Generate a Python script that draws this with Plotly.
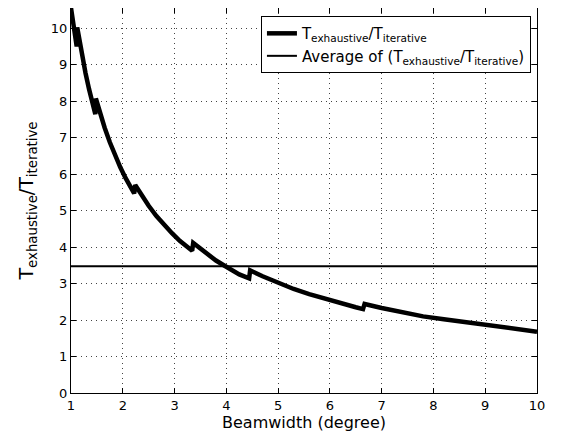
import plotly.graph_objects as go

# Beamwidth (degree) samples along the curve (jumps appear as pairs of close x)
beamwidth = [1.00, 1.03, 1.06, 1.09, 1.11, 1.12, 1.16, 1.22, 1.28, 1.35, 1.42, 1.47,
             1.48, 1.55, 1.65, 1.75, 1.85, 1.95, 2.05, 2.15, 2.22,
             2.24, 2.35, 2.50, 2.65, 2.80, 2.95, 3.10, 3.25, 3.34,
             3.36, 3.50, 3.65, 3.80, 3.95, 4.10, 4.25, 4.44,
             4.46, 4.70, 5.00, 5.30, 5.60, 5.90, 6.20, 6.50, 6.64,
             6.67, 7.00, 7.40, 7.80, 8.20, 8.60, 9.00, 9.40, 9.80, 10.00]
ratio = [10.55, 10.25, 9.95, 9.68, 9.50, 10.02, 9.68, 9.20, 8.77, 8.32, 7.91, 7.64,
         8.07, 7.72, 7.27, 6.87, 6.51, 6.19, 5.90, 5.64, 5.47,
         5.70, 5.44, 5.13, 4.85, 4.60, 4.38, 4.17, 3.99, 3.90,
         4.11, 3.95, 3.78, 3.63, 3.50, 3.37, 3.25, 3.14,
         3.36, 3.20, 3.01, 2.85, 2.71, 2.58, 2.46, 2.35, 2.30,
         2.44, 2.33, 2.21, 2.10, 2.02, 1.94, 1.86, 1.78, 1.71, 1.68]
average_ratio = 3.47
x_limits = [1, 10]
y_limits = [0, 10.55]
x_ticks = [1, 2, 3, 4, 5, 6, 7, 8, 9, 10]
y_ticks = [0, 1, 2, 3, 4, 5, 6, 7, 8, 9, 10]

name_ratio = "T<sub>exhaustive</sub>/T<sub>iterative</sub>"
name_avg = "Average of (T<sub>exhaustive</sub>/T<sub>iterative</sub>)"

fig = go.Figure()
fig.add_trace(go.Scatter(x=beamwidth, y=ratio, mode="lines", name=name_ratio,
                         line=dict(color="black", width=4.5)))
fig.add_trace(go.Scatter(x=x_limits, y=[average_ratio, average_ratio], mode="lines",
                         name=name_avg, line=dict(color="black", width=2)))

axis_common = dict(showline=True, linecolor="black", linewidth=1, mirror="ticks",
                   ticks="inside", ticklen=5, tickcolor="black", showgrid=True,
                   gridcolor="#444", gridwidth=1, griddash="1px,4px", zeroline=False,
                   tickfont=dict(size=13, color="black"))

fig.update_layout(
    width=561, height=441,
    margin=dict(l=63, r=32, t=0, b=56),
    paper_bgcolor="white", plot_bgcolor="white",
    font=dict(family="DejaVu Sans", color="black"),
    xaxis=dict(range=x_limits, tickvals=x_ticks, title=dict(text="Beamwidth (degree)", font=dict(size=16), standoff=4),
               **axis_common),
    yaxis=dict(range=y_limits, tickvals=y_ticks, title=dict(text=name_ratio, font=dict(size=19), standoff=12),
               **axis_common),
    legend=dict(x=0.987, y=0.979, xanchor="right", yanchor="top", bgcolor="white",
                bordercolor="black", borderwidth=1, font=dict(size=15), tracegroupgap=0),
    showlegend=True,
)
fig.update_xaxes(automargin=False)
fig.update_yaxes(automargin=False)

fig.write_html("out.html")
